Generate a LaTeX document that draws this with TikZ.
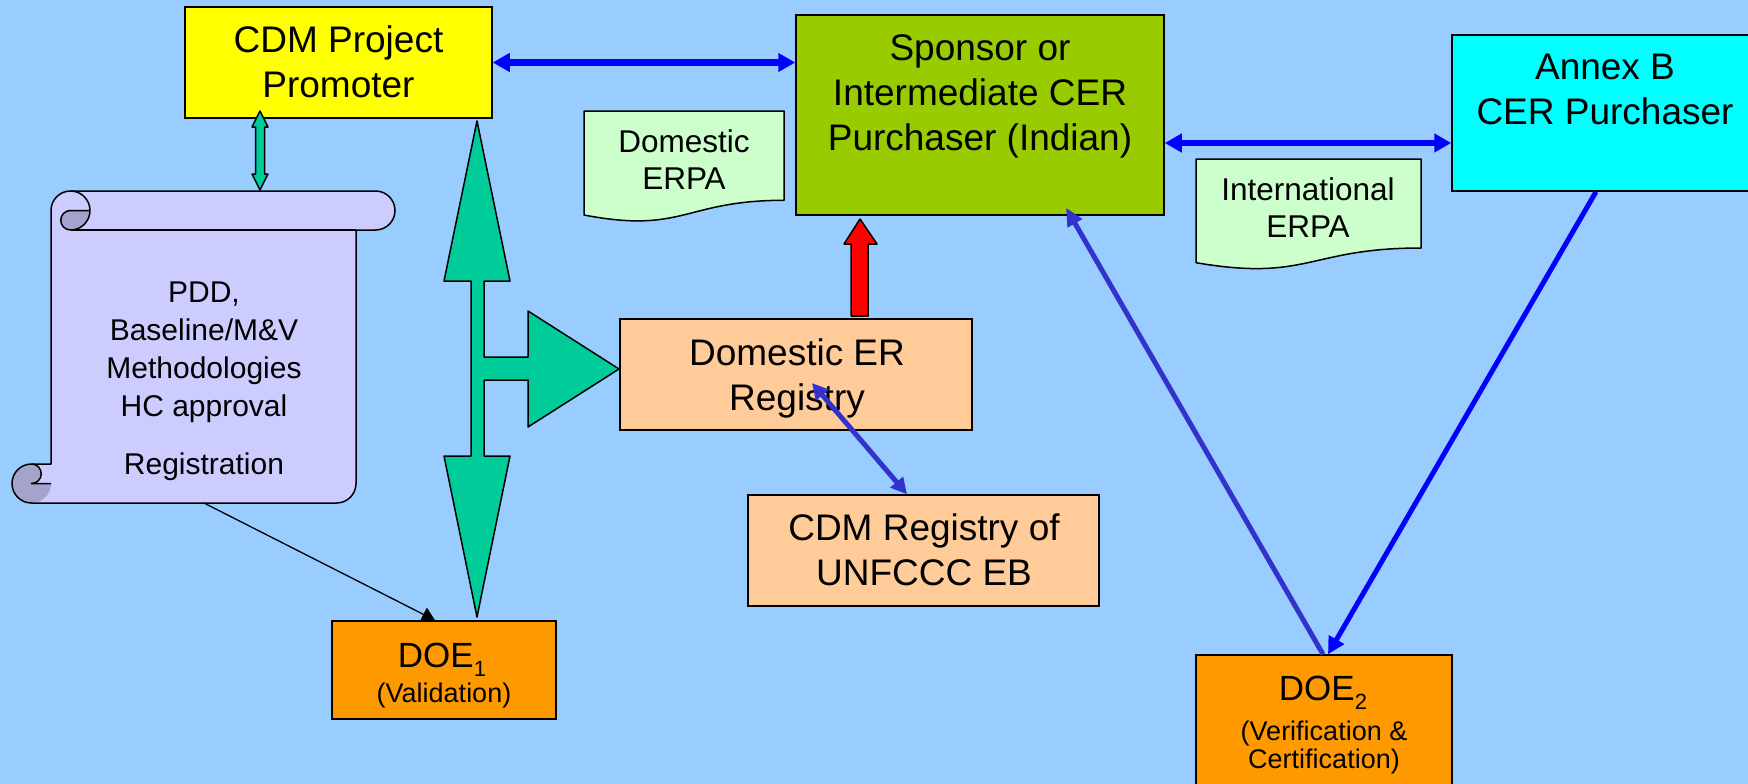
\documentclass[tikz,border=0pt]{standalone}
\usepackage{fontspec}
\setmainfont{Liberation Sans}
\usetikzlibrary{arrows.meta,calc}

\definecolor{bgblue}{HTML}{99CCFF}
\definecolor{promoyellow}{HTML}{FFFF00}
\definecolor{sponsorgreen}{HTML}{99CC00}
\definecolor{annexcyan}{HTML}{00FFFF}
\definecolor{docgreen}{HTML}{CCFFCC}
\definecolor{scrollfill}{HTML}{CCCCFF}
\definecolor{scrolldark}{HTML}{A3A3CC}
\definecolor{blockgreen}{HTML}{00CC99}
\definecolor{registry}{HTML}{FFCC99}
\definecolor{doeorange}{HTML}{FF9900}
\definecolor{linkblue}{HTML}{0000FF}
\definecolor{linkindigo}{HTML}{3333CC}

\begin{document}
\begin{tikzpicture}[x=1pt,y=-1pt,
  box/.style={draw=black,line width=1.5pt,inner sep=0pt},
  txt/.style={inner sep=0pt,align=center,anchor=base,font=\fontsize{37}{45}\selectfont},
  doctxt/.style={txt,font=\fontsize{31.5}{37}\selectfont},
  scrolltxt/.style={txt,font=\fontsize{30}{38}\selectfont},
  smalltxt/.style={txt,font=\fontsize{27}{28}\selectfont},
  doetxt/.style={txt,font=\fontsize{35}{40}\selectfont},
  outline/.style={draw=black,line width=1.5pt,line join=round},
  docshape/.style={outline,fill=docgreen},
  blockarrow/.style={outline,fill=blockgreen},
  wideblue/.style={draw=linkblue,line width=6.5pt,{Triangle[length=17pt,width=18pt]}-{Triangle[length=17pt,width=18pt]}},
  slimblue/.style={draw=linkblue,line width=5pt,-{Triangle[length=17pt,width=17pt]}},
  slimindigo/.style={draw=linkindigo,line width=5pt,-{Triangle[length=18pt,width=16pt]}},
  twinindigo/.style={draw=linkindigo,line width=5pt,{Triangle[length=16pt,width=16pt]}-{Triangle[length=16pt,width=16pt]}},
  thinblack/.style={draw=black,line width=1.3pt,-{Triangle[length=13pt,width=15pt]}}
]
\useasboundingbox (0,0) rectangle (1748,784);
\clip (0,0) rectangle (1748,784);
\fill[bgblue] (0,0) rectangle (1748,784);

% ---------- scroll with the project documents ----------
\fill[scrollfill] (51,464) -- (51,210.5) arc[start angle=180,end angle=90,radius=19.5pt]
  -- (375.5,191) arc[start angle=90,end angle=-90,radius=19.5pt]
  -- (356,230) -- (356,483.5) arc[start angle=0,end angle=-90,radius=19.5pt]
  -- (31.5,503) arc[start angle=-90,end angle=-270,radius=19.5pt] -- cycle;
\fill[scrolldark] (90,210.5) arc[start angle=0,end angle=-90,radius=19.5pt]
  arc[start angle=-90,end angle=-270,radius=9.75pt] -- cycle;
\fill[scrolldark] (51,483.5) arc[start angle=0,end angle=-270,radius=19.5pt]
  arc[start angle=90,end angle=-90,radius=9.75pt] -- cycle;
\draw[outline] (51,464) -- (51,210.5) arc[start angle=180,end angle=90,radius=19.5pt]
  -- (375.5,191) arc[start angle=90,end angle=-90,radius=19.5pt]
  -- (356,230) -- (356,483.5) arc[start angle=0,end angle=-90,radius=19.5pt]
  -- (31.5,503) arc[start angle=-90,end angle=-270,radius=19.5pt] -- cycle;
\draw[outline] (70.5,191) arc[start angle=90,end angle=-90,radius=19.5pt]
  arc[start angle=-90,end angle=-270,radius=9.75pt] -- (90,210.5);
\draw[outline] (356,230) -- (70.5,230);
\draw[outline] (31.5,464) arc[start angle=90,end angle=-90,radius=9.75pt] -- (51,483.5);
% multi-line texts are placed by the baseline of their last line
\node[scrolltxt] (scrolltext) at (204,416) {PDD,\\Baseline/M\&V\\Methodologies\\HC approval};
\node[scrolltxt] (scrollreg) at (204,474) {Registration};
\coordinate (scrollfoot) at (204,503);

% ---------- boxes ----------
\node[box,fill=promoyellow,minimum width=307pt,minimum height=111pt] (promoter) at (338.5,62.5) {};
\node[txt] (promotertext) at (338.5,97) {CDM Project\\Promoter};

\node[box,fill=sponsorgreen,minimum width=368pt,minimum height=200pt] (sponsor) at (980,115) {};
\node[txt] (sponsortext) at (980,150) {Sponsor or\\Intermediate CER\\Purchaser (Indian)};

\node[box,fill=annexcyan,minimum width=312pt,minimum height=156pt] (annex) at (1608,113) {};
\node[txt] (annextext) at (1605,124) {Annex B\\CER Purchaser};

\node[box,fill=registry,minimum width=352pt,minimum height=111pt] (domer) at (796,374.5) {};
\node[txt] (domertext) at (797,410) {Domestic ER\\Registry};

\node[box,fill=registry,minimum width=351pt,minimum height=111pt] (cdmreg) at (923.5,550.5) {};
\node[txt] (cdmregtext) at (924,585) {CDM Registry of\\UNFCCC EB};

\node[box,fill=doeorange,minimum width=224pt,minimum height=98pt] (doe1) at (444,670) {};
\node[doetxt] (doe1title) at (442,667) {DOE\raisebox{-0.28em}{\fontsize{22}{22}\selectfont 1}};
\node[smalltxt] (doe1role) at (444,702) {(Validation)};

\node[box,fill=doeorange,minimum width=256pt,minimum height=145pt] (doe2) at (1324,727.5) {};
\node[doetxt] (doe2title) at (1323,700) {DOE\raisebox{-0.28em}{\fontsize{22}{22}\selectfont 2}};
\node[smalltxt] (doe2role) at (1324,768) {(Verification \&\\Certification)};

% ---------- agreement documents ----------
\draw[docshape] (584,111) -- (784,111) -- (784,200.3)
  .. controls (684,200.3) and (684,234.2) .. (584,215) -- cycle;
\node[doctxt] (domerpa) at (684,189) {Domestic\\ERPA};
\draw[docshape] (1196,159) -- (1421,159) -- (1421,248)
  .. controls (1308.5,248) and (1308.5,281.9) .. (1196,262.7) -- cycle;
\node[doctxt] (interpa) at (1308,237) {International\\ERPA};

% ---------- block arrows ----------
\draw[blockarrow] (260,111) -- (268,127) -- (264.5,127) -- (264.5,174) -- (268,174)
  -- (260,190) -- (252,174) -- (255.5,174) -- (255.5,127) -- (252,127) -- cycle;
\draw[blockarrow] (477,121) -- (510,281) -- (484,281) -- (484,357) -- (528,357) -- (528,311)
  -- (619,369) -- (528,427) -- (528,380) -- (484,380) -- (484,456) -- (510,456)
  -- (477,617) -- (444,456) -- (471,456) -- (471,281) -- (444,281) -- cycle;
\draw[outline,fill=red] (860,219) -- (877,244) -- (868,244) -- (868,316) -- (851,316)
  -- (851,244) -- (844,244) -- cycle;

% ---------- connectors ----------
\coordinate (erpalevel) at (0,143);
\draw[wideblue] (promoter.east) -- (promoter.east -| sponsor.west);
\draw[wideblue] (sponsor.east |- erpalevel) -- (annex.west |- erpalevel);
\draw[slimblue] ([xshift=-12pt]annex.south) -- ([xshift=4pt]doe2.north);
\draw[slimindigo] ([xshift=-1pt]doe2.north) -- ([xshift=86pt,yshift=8pt]sponsor.south);
\draw[twinindigo] ([xshift=16pt,yshift=-8.5pt]domer.center) -- ([xshift=-16.5pt]cdmreg.north);
\draw[thinblack] (scrollfoot) -- ([xshift=-9pt]doe1.north);
\end{tikzpicture}
\end{document}
